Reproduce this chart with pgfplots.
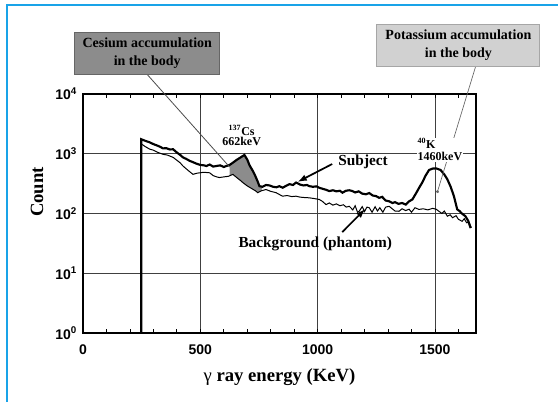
\documentclass[border=0pt]{standalone}
\usepackage{fontspec}
\setmainfont{Liberation Serif}
\newfontfamily\tickfont{Liberation Sans}
\usepackage{pgfplots}
\pgfplotsset{compat=1.18}
\usetikzlibrary{arrows.meta}
\definecolor{frameblue}{RGB}{25,163,232}
\begin{document}
\begin{tikzpicture}
\path[use as bounding box] (-62.25pt,-51pt) rectangle (356.25pt,249.75pt);
\fill[white] (-62.25pt,-51pt) rectangle (356.25pt,249.75pt);
\draw[frameblue, line width=2pt] (-57pt,-52pt) -- (-57pt,246pt) -- (357pt,246pt);
\begin{axis}[
  scale only axis, width=294.75pt, height=179.25pt,
  ymode=log,
  xmin=0, xmax=1675, ymin=1, ymax=10000,
  clip=false,
  axis line style={line width=1.6pt},
  xtick={0,500,1000,1500},
  xticklabels={0,500,1000,1500},
  minor xtick={100,200,300,400,600,700,800,900,1100,1200,1300,1400,1600},
  ytick={1,10,100,1000,10000},
  yticklabels={10\textsuperscript{0},10\textsuperscript{1},10\textsuperscript{2},10\textsuperscript{3},10\textsuperscript{4}},
  yminorticks=false,
  ytick style={draw=none},
  xtick style={black, line width=0.6pt},
  major tick length=3pt, minor tick length=3pt,
  xmajorgrids, ymajorgrids,
  grid style={black!75, line width=0.5pt},
  ticklabel style={font=\tickfont\bfseries\fontsize{10.5}{12}\selectfont},
  xticklabel style={yshift=-5pt},
  yticklabel style={xshift=-1pt},
  xlabel={\fontsize{14}{16}\selectfont γ \textbf{ray energy (KeV)}},
  xlabel style={at={(axis description cs:0.5,0)}, anchor=north, yshift=-23pt},
  ylabel={\textbf{Count}},
  ylabel style={font=\fontsize{14}{16}\selectfont, at={(axis description cs:-0.117,0.59)}, anchor=center},
]
\addplot[fill=black!45, draw=none] coordinates {
(625,650) (639,710) (655,790) (670,860) (688,955) (700,800) (710,640) (724,515) (735,420) (745,340) (752,287) (765,280)
(760,240) (745,223) (735,240) (720,260) (700,290) (681,330) (670,360) (655,400) (639,452) (625,428)
} -- cycle;
\addplot[black, line width=1.6pt] table {
x y
248 1
248 1750
265 1650
285 1550
300 1450
315 1380
330 1300
341 1230
355 1240
370 1180
384 1190
400 1050
415 950
426 870
440 820
455 760
470 720
483 684
500 650
515 640
526 624
540 660
555 610
568 624
585 640
600 600
611 624
625 650
639 710
655 790
670 860
688 955
700 800
710 640
724 515
735 420
745 340
752 287
765 280
780 300
795 295
810 280
825 275
837 287
851 270
865 290
880 310
895 300
908 330
925 305
940 295
955 300
965 287
980 280
995 285
1007 270
1020 260
1035 250
1050 237
1065 245
1080 235
1095 240
1106 223
1120 240
1135 245
1149 237
1160 225
1175 235
1190 215
1206 210
1220 220
1235 200
1250 195
1262 183
1275 190
1290 165
1305 160
1319 150
1330 155
1345 145
1360 150
1376 141
1390 160
1404 172
1420 220
1435 280
1446 330
1460 430
1475 535
1490 565
1505 570
1524 535
1540 450
1553 373
1567 280
1581 195
1595 117
1605 110
1615 100
1630 90
1642 75
1652 57
};
\addplot[black, line width=0.75pt] table {
x y
250 1450
265 1320
285 1190
300 1150
320 1050
341 980
360 950
384 870
400 780
415 700
426 624
440 560
455 500
469 452
483 470
497 480
515 490
540 480
555 430
570 410
582 400
600 410
620 420
639 452
655 400
670 360
681 330
700 290
720 260
735 240
745 223
760 240
780 252
800 235
823 223
840 205
851 195
870 200
890 192
908 195
925 188
945 185
965 183
985 178
1007 172
1020 160
1036 141
1050 150
1065 138
1080 145
1095 135
1110 140
1122 128
1135 132
1150 115
1160 135
1170 105
1177 109
1190 130
1200 108
1210 128
1220 125
1232 105
1245 130
1255 110
1265 125
1278 105
1290 128
1305 132
1318 120
1330 110
1347 109
1360 120
1375 112
1390 118
1400 105
1415 125
1432 117
1450 120
1470 115
1490 122
1505 118
1517 109
1530 100
1540 110
1553 90
1565 95
1575 85
1590 92
1600 80
1616 74
1625 82
1635 70
1645 72
1655 58
};

% annotations
\draw[black!70, line width=0.6pt] (axis cs:272,21600) -- (axis cs:625,600);
\draw[black!60, line width=0.5pt, -{Circle[length=2.2pt]}] (axis cs:1674,29400) -- (axis cs:1509,220);
\node[fill=black!45, draw=black!60, line width=0.6pt, minimum width=108.75pt, minimum height=31.5pt, inner sep=1pt, align=center, font=\bfseries\fontsize{10.5}{13.5}\selectfont] at (axis cs:274,47600) {Cesium accumulation\\in the body};
\node[fill=black!18, draw=black!35, line width=0.6pt, minimum width=122.25pt, minimum height=31.5pt, inner sep=1pt, align=center, font=\bfseries\fontsize{10.5}{13.5}\selectfont] at (axis cs:1600,66000) {Potassium accumulation\\in the body};
\node[align=center, inner sep=0pt, font=\bfseries\fontsize{9}{8}\selectfont] at (axis cs:676,2020) {\textsuperscript{137}Cs\\662keV};
\node[align=left, anchor=west, fill=white, inner sep=0.5pt, font=\bfseries\fontsize{9}{9}\selectfont] at (axis cs:1422,1175) {\textsuperscript{40}K\\1460keV};
\node[inner sep=0pt, font=\bfseries\fontsize{11.5}{13}\selectfont] at (axis cs:1194,728) {Subject};
\node[inner sep=0pt, font=\bfseries\fontsize{11.5}{13}\selectfont] at (axis cs:990,31) {Background (phantom)};
\draw[black, line width=1.3pt, -{Latex[length=7pt,width=5pt]}] (axis cs:1062,673) -- (axis cs:914,337);
\draw[black, line width=1.3pt, -{Latex[length=7pt,width=5pt]}] (axis cs:1105,49) -- (axis cs:1203,119);
\end{axis}
\end{tikzpicture}
\end{document}
